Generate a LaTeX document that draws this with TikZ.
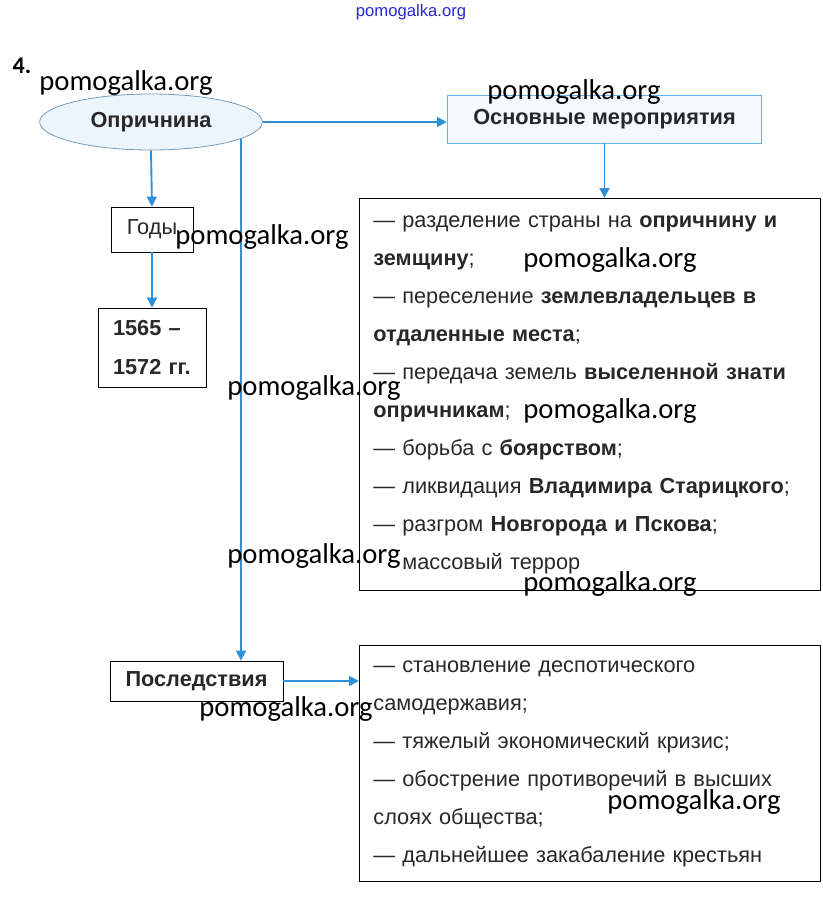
\documentclass[tikz,border=0pt]{standalone}
\usepackage{fontspec}
\setmainfont{Liberation Sans}
\newfontfamily\wmfont{Carlito}
\usepackage{xcolor}
\usepackage{tikz}
\usetikzlibrary{shapes.geometric, arrows.meta, positioning, backgrounds}
\definecolor{linkblue}{RGB}{46, 144, 216}
\definecolor{ovalline}{RGB}{120, 155, 185}
\definecolor{ovalfill}{RGB}{236, 245, 252}
\definecolor{headline}{RGB}{95, 180, 232}
\definecolor{textgray}{RGB}{40, 40, 40}
\definecolor{wmblue}{RGB}{40, 40, 210}

\begin{document}
\begin{tikzpicture}[
    x=0.75pt, y=-0.75pt,
    oval/.style={ellipse, draw=ovalline, fill=ovalfill, line width=0.6pt, minimum width=167pt, minimum height=42pt, inner sep=0pt, font=\fontsize{16.3}{19}\selectfont\bfseries, text=textgray},
    headbox/.style={rectangle, draw=headline, fill=ovalfill!60, line width=0.6pt, minimum width=236pt, minimum height=36pt, font=\fontsize{16.3}{19}\selectfont\bfseries, text=textgray},
    smallbox/.style={rectangle, draw, line width=0.6pt, font=\fontsize{16.3}{19}\selectfont, text=textgray},
    listbox/.style={rectangle, draw, line width=0.6pt, anchor=north west, align=left, text width=324.75pt, inner xsep=10.5pt, font=\fontsize{16.3}{28.5}\selectfont, text=textgray},
    arrow/.style={-{Triangle[length=7.5pt, width=7.5pt]}, draw=linkblue, fill=linkblue, line width=1.4pt},
    watermark/.style={font=\wmfont\fontsize{21.5}{21.5}\selectfont, text=black, inner sep=0pt}
]
    \useasboundingbox (0,0) rectangle (822,897);

    % Number
    \node[font=\wmfont\fontsize{18}{18}\selectfont\bfseries, inner sep=0pt] (num) at (22,66) {4.};

    % Top row
    \node[oval] (opr) at (151,122) {Опричнина};
    \node[headbox] (main) at (604.5,119) {Основные мероприятия};

    % Years
    \node[smallbox, minimum width=61.5pt, minimum height=33.75pt] (years) at (152,229.5) {Годы};
    \node[smallbox, font=\fontsize{16.3}{29.25}\selectfont\bfseries, align=left, text width=58.5pt, inner xsep=11.25pt, minimum height=59.25pt] (dates) at (152,347.5) {1565 –\\1572 гг.};

    % Measures
    \node[listbox, minimum height=294pt] (measures) at (359,198) {%
        — разделение страны на \textbf{опричнину и}\\
        \textbf{земщину};\\
        — переселение \textbf{землевладельцев в}\\
        \textbf{отдаленные места};\\
        — передача земель \textbf{выселенной знати}\\
        \textbf{опричникам};\\
        — борьба с \textbf{боярством};\\
        — ликвидация \textbf{Владимира Старицкого};\\
        — разгром \textbf{Новгорода и Пскова};\\
        \phantom{—} массовый террор};

    % Consequences
    \node[smallbox, font=\fontsize{16.3}{19}\selectfont\bfseries, minimum width=129.75pt, minimum height=30pt] (conseq) at (196.5,681) {Последствия};
    \node[listbox, minimum height=177pt] (results) at (359,645) {%
        — становление деспотического\\
        самодержавия;\\
        — тяжелый экономический кризис;\\
        — обострение противоречий в высших\\
        слоях общества;\\
        — дальнейшее закабаление крестьян};

    % Arrows
    \coordinate (drop) at (241,0);
    \draw[arrow] (opr.east) -- (opr.east -| main.west);
    \draw[arrow] (main.south) -- (main.south |- measures.north);
    \draw[arrow] (opr.south) -- (years.north);
    \draw[arrow] (years.south) -- (dates.north);
    \begin{scope}[on background layer]
        \draw[arrow] (opr.center -| drop) -- (conseq.north -| drop);
    \end{scope}
    \draw[arrow] (conseq.east) -- (conseq.east -| results.west);

    % Watermarks
    \node[font=\fontsize{12.5}{12.5}\selectfont, text=wmblue, inner sep=0pt] (wm0) at (411,12) {pomogalka.org};
    \node[watermark] (wm1) at (126,83) {pomogalka.org};
    \node[watermark] (wm2) at (574,92) {pomogalka.org};
    \node[watermark] (wm3) at (262,237) {pomogalka.org};
    \node[watermark] (wm4) at (610,260) {pomogalka.org};
    \node[watermark] (wm5) at (314,388) {pomogalka.org};
    \node[watermark] (wm6) at (610,411) {pomogalka.org};
    \node[watermark] (wm7) at (314,556) {pomogalka.org};
    \node[watermark] (wm8) at (610,584) {pomogalka.org};
    \node[watermark] (wm9) at (286,709) {pomogalka.org};
    \node[watermark] (wm10) at (694,802) {pomogalka.org};
\end{tikzpicture}
\end{document}
